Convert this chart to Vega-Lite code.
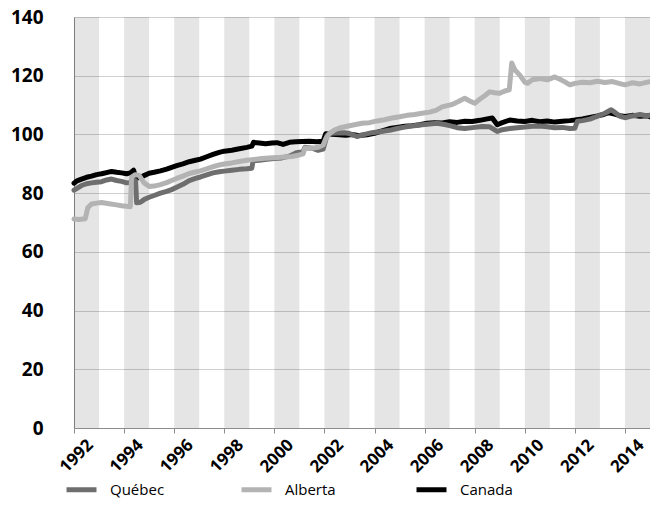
{
  "$schema": "https://vega.github.io/schema/vega-lite/v6.json",
  "width": 576,
  "height": 411,
  "autosize": {"type": "none"},
  "padding": {"left": 74, "top": 17, "right": 0, "bottom": 94},
  "config": {"view": {"stroke": null}, "font": "Open Sans"},
  "datasets": {
    "bands": [
      {"s": 1992, "e": 1993}, {"s": 1994, "e": 1995}, {"s": 1996, "e": 1997}, {"s": 1998, "e": 1999},
      {"s": 2000, "e": 2001}, {"s": 2002, "e": 2003}, {"s": 2004, "e": 2005}, {"s": 2006, "e": 2007},
      {"s": 2008, "e": 2009}, {"s": 2010, "e": 2011}, {"s": 2012, "e": 2013}, {"s": 2014, "e": 2015}
    ],
    "series": [
      {"r": "Canada", "t": 1992.0, "v": 83.4}, {"r": "Canada", "t": 1992.12, "v": 84.2}, {"r": "Canada", "t": 1992.3, "v": 84.8}, {"r": "Canada", "t": 1992.5, "v": 85.4}, {"r": "Canada", "t": 1992.7, "v": 85.8}, {"r": "Canada", "t": 1992.9, "v": 86.3}, {"r": "Canada", "t": 1993.1, "v": 86.6}, {"r": "Canada", "t": 1993.3, "v": 87.0}, {"r": "Canada", "t": 1993.5, "v": 87.4}, {"r": "Canada", "t": 1993.7, "v": 87.1}, {"r": "Canada", "t": 1993.9, "v": 86.9}, {"r": "Canada", "t": 1994.1, "v": 86.6}, {"r": "Canada", "t": 1994.25, "v": 86.9}, {"r": "Canada", "t": 1994.38, "v": 87.8}, {"r": "Canada", "t": 1994.45, "v": 85.6}, {"r": "Canada", "t": 1994.55, "v": 85.2}, {"r": "Canada", "t": 1994.75, "v": 85.8}, {"r": "Canada", "t": 1995.0, "v": 86.8}, {"r": "Canada", "t": 1995.2, "v": 87.1}, {"r": "Canada", "t": 1995.45, "v": 87.6}, {"r": "Canada", "t": 1995.7, "v": 88.2}, {"r": "Canada", "t": 1995.9, "v": 88.8}, {"r": "Canada", "t": 1996.1, "v": 89.4}, {"r": "Canada", "t": 1996.35, "v": 90.0}, {"r": "Canada", "t": 1996.6, "v": 90.7}, {"r": "Canada", "t": 1996.85, "v": 91.2}, {"r": "Canada", "t": 1997.05, "v": 91.6}, {"r": "Canada", "t": 1997.3, "v": 92.4}, {"r": "Canada", "t": 1997.55, "v": 93.2}, {"r": "Canada", "t": 1997.8, "v": 93.9}, {"r": "Canada", "t": 1998.0, "v": 94.3}, {"r": "Canada", "t": 1998.3, "v": 94.6}, {"r": "Canada", "t": 1998.6, "v": 95.1}, {"r": "Canada", "t": 1998.9, "v": 95.6}, {"r": "Canada", "t": 1999.1, "v": 96.0}, {"r": "Canada", "t": 1999.17, "v": 97.3}, {"r": "Canada", "t": 1999.4, "v": 97.1}, {"r": "Canada", "t": 1999.65, "v": 96.8}, {"r": "Canada", "t": 1999.9, "v": 97.1}, {"r": "Canada", "t": 2000.1, "v": 97.2}, {"r": "Canada", "t": 2000.35, "v": 96.6}, {"r": "Canada", "t": 2000.6, "v": 97.3}, {"r": "Canada", "t": 2000.85, "v": 97.5}, {"r": "Canada", "t": 2001.1, "v": 97.6}, {"r": "Canada", "t": 2001.4, "v": 97.7}, {"r": "Canada", "t": 2001.7, "v": 97.5}, {"r": "Canada", "t": 2001.95, "v": 97.7}, {"r": "Canada", "t": 2002.05, "v": 100.2}, {"r": "Canada", "t": 2002.3, "v": 100.1}, {"r": "Canada", "t": 2002.6, "v": 99.9}, {"r": "Canada", "t": 2002.85, "v": 99.7}, {"r": "Canada", "t": 2003.1, "v": 100.0}, {"r": "Canada", "t": 2003.4, "v": 99.6}, {"r": "Canada", "t": 2003.7, "v": 99.9}, {"r": "Canada", "t": 2004.0, "v": 100.4}, {"r": "Canada", "t": 2004.3, "v": 101.2}, {"r": "Canada", "t": 2004.6, "v": 102.0}, {"r": "Canada", "t": 2004.9, "v": 102.4}, {"r": "Canada", "t": 2005.2, "v": 102.8}, {"r": "Canada", "t": 2005.5, "v": 103.0}, {"r": "Canada", "t": 2005.8, "v": 103.3}, {"r": "Canada", "t": 2006.1, "v": 103.8}, {"r": "Canada", "t": 2006.4, "v": 104.0}, {"r": "Canada", "t": 2006.7, "v": 103.9}, {"r": "Canada", "t": 2007.0, "v": 104.3}, {"r": "Canada", "t": 2007.3, "v": 104.1}, {"r": "Canada", "t": 2007.6, "v": 104.5}, {"r": "Canada", "t": 2007.9, "v": 104.4}, {"r": "Canada", "t": 2008.2, "v": 104.8}, {"r": "Canada", "t": 2008.5, "v": 105.3}, {"r": "Canada", "t": 2008.7, "v": 105.6}, {"r": "Canada", "t": 2008.9, "v": 103.3}, {"r": "Canada", "t": 2009.1, "v": 104.0}, {"r": "Canada", "t": 2009.4, "v": 104.9}, {"r": "Canada", "t": 2009.7, "v": 104.6}, {"r": "Canada", "t": 2010.0, "v": 104.4}, {"r": "Canada", "t": 2010.3, "v": 104.8}, {"r": "Canada", "t": 2010.6, "v": 104.3}, {"r": "Canada", "t": 2010.9, "v": 104.6}, {"r": "Canada", "t": 2011.2, "v": 104.2}, {"r": "Canada", "t": 2011.5, "v": 104.5}, {"r": "Canada", "t": 2011.8, "v": 104.7}, {"r": "Canada", "t": 2012.0, "v": 104.9}, {"r": "Canada", "t": 2012.3, "v": 105.3}, {"r": "Canada", "t": 2012.6, "v": 105.8}, {"r": "Canada", "t": 2012.9, "v": 106.3}, {"r": "Canada", "t": 2013.1, "v": 106.7}, {"r": "Canada", "t": 2013.35, "v": 107.4}, {"r": "Canada", "t": 2013.55, "v": 107.0}, {"r": "Canada", "t": 2013.8, "v": 106.4}, {"r": "Canada", "t": 2014.0, "v": 106.1}, {"r": "Canada", "t": 2014.3, "v": 106.5}, {"r": "Canada", "t": 2014.6, "v": 106.2}, {"r": "Canada", "t": 2014.9, "v": 106.4}, {"r": "Canada", "t": 2015.0, "v": 106.0},
      {"r": "Québec", "t": 1992.0, "v": 81.0}, {"r": "Québec", "t": 1992.15, "v": 81.8}, {"r": "Québec", "t": 1992.3, "v": 82.6}, {"r": "Québec", "t": 1992.5, "v": 83.2}, {"r": "Québec", "t": 1992.7, "v": 83.5}, {"r": "Québec", "t": 1992.9, "v": 83.7}, {"r": "Québec", "t": 1993.1, "v": 83.9}, {"r": "Québec", "t": 1993.3, "v": 84.5}, {"r": "Québec", "t": 1993.5, "v": 84.8}, {"r": "Québec", "t": 1993.7, "v": 84.3}, {"r": "Québec", "t": 1993.9, "v": 84.0}, {"r": "Québec", "t": 1994.1, "v": 83.5}, {"r": "Québec", "t": 1994.25, "v": 83.6}, {"r": "Québec", "t": 1994.38, "v": 84.5}, {"r": "Québec", "t": 1994.46, "v": 84.2}, {"r": "Québec", "t": 1994.5, "v": 76.7}, {"r": "Québec", "t": 1994.65, "v": 76.9}, {"r": "Québec", "t": 1994.8, "v": 77.8}, {"r": "Québec", "t": 1995.0, "v": 78.6}, {"r": "Québec", "t": 1995.2, "v": 79.2}, {"r": "Québec", "t": 1995.45, "v": 80.0}, {"r": "Québec", "t": 1995.7, "v": 80.6}, {"r": "Québec", "t": 1995.9, "v": 81.2}, {"r": "Québec", "t": 1996.1, "v": 82.0}, {"r": "Québec", "t": 1996.35, "v": 83.0}, {"r": "Québec", "t": 1996.6, "v": 84.3}, {"r": "Québec", "t": 1996.85, "v": 85.0}, {"r": "Québec", "t": 1997.05, "v": 85.5}, {"r": "Québec", "t": 1997.3, "v": 86.2}, {"r": "Québec", "t": 1997.55, "v": 86.9}, {"r": "Québec", "t": 1997.8, "v": 87.3}, {"r": "Québec", "t": 1998.0, "v": 87.5}, {"r": "Québec", "t": 1998.3, "v": 87.8}, {"r": "Québec", "t": 1998.6, "v": 88.1}, {"r": "Québec", "t": 1998.9, "v": 88.3}, {"r": "Québec", "t": 1999.1, "v": 88.5}, {"r": "Québec", "t": 1999.15, "v": 91.0}, {"r": "Québec", "t": 1999.4, "v": 91.2}, {"r": "Québec", "t": 1999.7, "v": 91.5}, {"r": "Québec", "t": 2000.0, "v": 91.8}, {"r": "Québec", "t": 2000.3, "v": 92.0}, {"r": "Québec", "t": 2000.6, "v": 92.6}, {"r": "Québec", "t": 2000.9, "v": 93.8}, {"r": "Québec", "t": 2001.15, "v": 94.2}, {"r": "Québec", "t": 2001.22, "v": 95.6}, {"r": "Québec", "t": 2001.5, "v": 95.3}, {"r": "Québec", "t": 2001.75, "v": 94.6}, {"r": "Québec", "t": 2001.95, "v": 95.0}, {"r": "Québec", "t": 2002.1, "v": 99.6}, {"r": "Québec", "t": 2002.2, "v": 100.4}, {"r": "Québec", "t": 2002.5, "v": 100.5}, {"r": "Québec", "t": 2002.8, "v": 100.6}, {"r": "Québec", "t": 2003.0, "v": 100.3}, {"r": "Québec", "t": 2003.3, "v": 99.3}, {"r": "Québec", "t": 2003.6, "v": 100.0}, {"r": "Québec", "t": 2003.9, "v": 100.6}, {"r": "Québec", "t": 2004.2, "v": 100.9}, {"r": "Québec", "t": 2004.6, "v": 101.4}, {"r": "Québec", "t": 2004.9, "v": 102.0}, {"r": "Québec", "t": 2005.2, "v": 102.5}, {"r": "Québec", "t": 2005.5, "v": 102.9}, {"r": "Québec", "t": 2005.8, "v": 103.2}, {"r": "Québec", "t": 2006.1, "v": 103.5}, {"r": "Québec", "t": 2006.5, "v": 103.8}, {"r": "Québec", "t": 2006.8, "v": 103.4}, {"r": "Québec", "t": 2007.0, "v": 103.0}, {"r": "Québec", "t": 2007.3, "v": 102.3}, {"r": "Québec", "t": 2007.6, "v": 102.0}, {"r": "Québec", "t": 2008.0, "v": 102.4}, {"r": "Québec", "t": 2008.3, "v": 102.7}, {"r": "Québec", "t": 2008.6, "v": 102.6}, {"r": "Québec", "t": 2008.9, "v": 101.0}, {"r": "Québec", "t": 2009.1, "v": 101.6}, {"r": "Québec", "t": 2009.4, "v": 102.0}, {"r": "Québec", "t": 2009.7, "v": 102.3}, {"r": "Québec", "t": 2010.0, "v": 102.5}, {"r": "Québec", "t": 2010.3, "v": 102.8}, {"r": "Québec", "t": 2010.6, "v": 102.9}, {"r": "Québec", "t": 2010.9, "v": 102.6}, {"r": "Québec", "t": 2011.2, "v": 102.3}, {"r": "Québec", "t": 2011.5, "v": 102.4}, {"r": "Québec", "t": 2011.8, "v": 102.0}, {"r": "Québec", "t": 2012.0, "v": 102.1}, {"r": "Québec", "t": 2012.1, "v": 104.5}, {"r": "Québec", "t": 2012.3, "v": 104.7}, {"r": "Québec", "t": 2012.6, "v": 105.2}, {"r": "Québec", "t": 2012.9, "v": 106.2}, {"r": "Québec", "t": 2013.2, "v": 107.2}, {"r": "Québec", "t": 2013.45, "v": 108.4}, {"r": "Québec", "t": 2013.6, "v": 107.5}, {"r": "Québec", "t": 2013.8, "v": 106.2}, {"r": "Québec", "t": 2014.0, "v": 105.7}, {"r": "Québec", "t": 2014.3, "v": 106.3}, {"r": "Québec", "t": 2014.6, "v": 106.8}, {"r": "Québec", "t": 2014.9, "v": 106.3}, {"r": "Québec", "t": 2015.0, "v": 106.6},
      {"r": "Alberta", "t": 1992.0, "v": 71.2}, {"r": "Alberta", "t": 1992.2, "v": 71.0}, {"r": "Alberta", "t": 1992.45, "v": 71.3}, {"r": "Alberta", "t": 1992.55, "v": 75.0}, {"r": "Alberta", "t": 1992.7, "v": 76.3}, {"r": "Alberta", "t": 1992.9, "v": 76.6}, {"r": "Alberta", "t": 1993.1, "v": 76.8}, {"r": "Alberta", "t": 1993.4, "v": 76.4}, {"r": "Alberta", "t": 1993.7, "v": 76.0}, {"r": "Alberta", "t": 1993.9, "v": 75.7}, {"r": "Alberta", "t": 1994.1, "v": 75.5}, {"r": "Alberta", "t": 1994.25, "v": 75.4}, {"r": "Alberta", "t": 1994.3, "v": 85.5}, {"r": "Alberta", "t": 1994.45, "v": 86.3}, {"r": "Alberta", "t": 1994.6, "v": 86.0}, {"r": "Alberta", "t": 1994.8, "v": 83.5}, {"r": "Alberta", "t": 1995.0, "v": 82.3}, {"r": "Alberta", "t": 1995.2, "v": 82.4}, {"r": "Alberta", "t": 1995.45, "v": 82.9}, {"r": "Alberta", "t": 1995.7, "v": 83.6}, {"r": "Alberta", "t": 1995.9, "v": 84.3}, {"r": "Alberta", "t": 1996.1, "v": 85.0}, {"r": "Alberta", "t": 1996.35, "v": 85.8}, {"r": "Alberta", "t": 1996.6, "v": 86.7}, {"r": "Alberta", "t": 1996.85, "v": 87.2}, {"r": "Alberta", "t": 1997.05, "v": 87.6}, {"r": "Alberta", "t": 1997.3, "v": 88.3}, {"r": "Alberta", "t": 1997.55, "v": 89.0}, {"r": "Alberta", "t": 1997.8, "v": 89.6}, {"r": "Alberta", "t": 1998.0, "v": 89.9}, {"r": "Alberta", "t": 1998.3, "v": 90.3}, {"r": "Alberta", "t": 1998.6, "v": 90.8}, {"r": "Alberta", "t": 1998.9, "v": 91.2}, {"r": "Alberta", "t": 1999.2, "v": 91.5}, {"r": "Alberta", "t": 1999.5, "v": 91.8}, {"r": "Alberta", "t": 1999.8, "v": 92.0}, {"r": "Alberta", "t": 2000.1, "v": 92.1}, {"r": "Alberta", "t": 2000.4, "v": 92.3}, {"r": "Alberta", "t": 2000.7, "v": 92.5}, {"r": "Alberta", "t": 2001.0, "v": 93.0}, {"r": "Alberta", "t": 2001.15, "v": 93.4}, {"r": "Alberta", "t": 2001.22, "v": 95.4}, {"r": "Alberta", "t": 2001.5, "v": 95.3}, {"r": "Alberta", "t": 2001.75, "v": 95.6}, {"r": "Alberta", "t": 2001.95, "v": 96.4}, {"r": "Alberta", "t": 2002.05, "v": 98.5}, {"r": "Alberta", "t": 2002.2, "v": 100.2}, {"r": "Alberta", "t": 2002.4, "v": 101.5}, {"r": "Alberta", "t": 2002.6, "v": 102.2}, {"r": "Alberta", "t": 2002.9, "v": 102.8}, {"r": "Alberta", "t": 2003.2, "v": 103.3}, {"r": "Alberta", "t": 2003.5, "v": 103.8}, {"r": "Alberta", "t": 2003.8, "v": 104.0}, {"r": "Alberta", "t": 2004.1, "v": 104.6}, {"r": "Alberta", "t": 2004.4, "v": 105.0}, {"r": "Alberta", "t": 2004.7, "v": 105.6}, {"r": "Alberta", "t": 2005.0, "v": 106.0}, {"r": "Alberta", "t": 2005.3, "v": 106.5}, {"r": "Alberta", "t": 2005.6, "v": 106.8}, {"r": "Alberta", "t": 2005.9, "v": 107.2}, {"r": "Alberta", "t": 2006.2, "v": 107.6}, {"r": "Alberta", "t": 2006.45, "v": 108.2}, {"r": "Alberta", "t": 2006.7, "v": 109.4}, {"r": "Alberta", "t": 2006.9, "v": 109.8}, {"r": "Alberta", "t": 2007.1, "v": 110.2}, {"r": "Alberta", "t": 2007.35, "v": 111.2}, {"r": "Alberta", "t": 2007.6, "v": 112.3}, {"r": "Alberta", "t": 2007.8, "v": 111.4}, {"r": "Alberta", "t": 2008.0, "v": 110.6}, {"r": "Alberta", "t": 2008.2, "v": 112.0}, {"r": "Alberta", "t": 2008.4, "v": 113.2}, {"r": "Alberta", "t": 2008.6, "v": 114.5}, {"r": "Alberta", "t": 2008.8, "v": 114.2}, {"r": "Alberta", "t": 2009.0, "v": 114.0}, {"r": "Alberta", "t": 2009.2, "v": 114.8}, {"r": "Alberta", "t": 2009.38, "v": 115.2}, {"r": "Alberta", "t": 2009.48, "v": 124.3}, {"r": "Alberta", "t": 2009.6, "v": 122.0}, {"r": "Alberta", "t": 2009.8, "v": 120.2}, {"r": "Alberta", "t": 2010.0, "v": 117.8}, {"r": "Alberta", "t": 2010.1, "v": 117.4}, {"r": "Alberta", "t": 2010.3, "v": 118.6}, {"r": "Alberta", "t": 2010.6, "v": 119.0}, {"r": "Alberta", "t": 2010.9, "v": 118.6}, {"r": "Alberta", "t": 2011.2, "v": 119.6}, {"r": "Alberta", "t": 2011.4, "v": 118.8}, {"r": "Alberta", "t": 2011.6, "v": 117.9}, {"r": "Alberta", "t": 2011.8, "v": 116.9}, {"r": "Alberta", "t": 2012.0, "v": 117.4}, {"r": "Alberta", "t": 2012.3, "v": 117.8}, {"r": "Alberta", "t": 2012.6, "v": 117.6}, {"r": "Alberta", "t": 2012.9, "v": 118.1}, {"r": "Alberta", "t": 2013.2, "v": 117.7}, {"r": "Alberta", "t": 2013.5, "v": 118.0}, {"r": "Alberta", "t": 2013.8, "v": 117.3}, {"r": "Alberta", "t": 2014.0, "v": 116.9}, {"r": "Alberta", "t": 2014.3, "v": 117.6}, {"r": "Alberta", "t": 2014.6, "v": 117.2}, {"r": "Alberta", "t": 2014.9, "v": 117.8}, {"r": "Alberta", "t": 2015.0, "v": 118.0}
    ]
  },
  "layer": [
    {
      "data": {"name": "bands"},
      "mark": {"type": "rect", "fill": "#000000", "opacity": 0.1},
      "encoding": {
        "x": {
          "field": "s", "type": "quantitative",
          "scale": {"domain": [1992, 2015], "nice": false, "zero": false},
          "axis": {
            "title": null,
            "values": [1992, 1993, 1994, 1995, 1996, 1997, 1998, 1999, 2000, 2001, 2002, 2003, 2004, 2005, 2006, 2007, 2008, 2009, 2010, 2011, 2012, 2013, 2014, 2015],
            "format": "d",
            "labelExpr": "datum.value % 2 == 0 && datum.value < 2015 ? datum.label : ''",
            "labelAngle": -45,
            "labelAlign": "right",
            "labelBaseline": "middle",
            "labelOffset": 16,
            "labelPadding": 9,
            "labelFont": "Open Sans",
            "labelFontWeight": "bold",
            "labelFontSize": 17,
            "labelColor": "#000000",
            "labelOverlap": false,
            "labelFlush": false,
            "labelBound": false,
            "tickColor": "#8c8c8c",
            "tickSize": 5,
            "domainColor": "#8c8c8c",
            "grid": false
          }
        },
        "x2": {"field": "e"}
      }
    },
    {
      "data": {"name": "series"},
      "mark": {"type": "line", "strokeWidth": 5, "strokeJoin": "round", "strokeCap": "round"},
      "encoding": {
        "x": {"field": "t", "type": "quantitative"},
        "y": {
          "field": "v", "type": "quantitative",
          "scale": {"domain": [0, 140], "nice": false},
          "axis": {
            "title": null,
            "values": [0, 20, 40, 60, 80, 100, 120, 140],
            "ticks": false,
            "labelPadding": 31,
            "labelFont": "Open Sans",
            "labelFontWeight": "bold",
            "labelFontSize": 19,
            "labelColor": "#000000",
            "domainColor": "#8c8c8c",
            "gridColor": "#d0d0d0",
            "grid": true
          }
        },
        "color": {
          "field": "r", "type": "nominal",
          "scale": {"domain": ["Québec", "Alberta", "Canada"], "range": ["#6e6e6e", "#b3b3b3", "#000000"]},
          "legend": {
            "title": null,
            "orient": "none",
            "legendX": -10,
            "legendY": 455,
            "direction": "horizontal",
            "symbolType": "stroke",
            "symbolStrokeWidth": 5,
            "symbolSize": 900,
            "labelFont": "Open Sans",
            "labelFontSize": 15,
            "labelColor": "#000000",
            "labelOffset": 11,
            "columnPadding": 66,
            "gridAlign": "all"
          }
        }
      }
    }
  ]
}
